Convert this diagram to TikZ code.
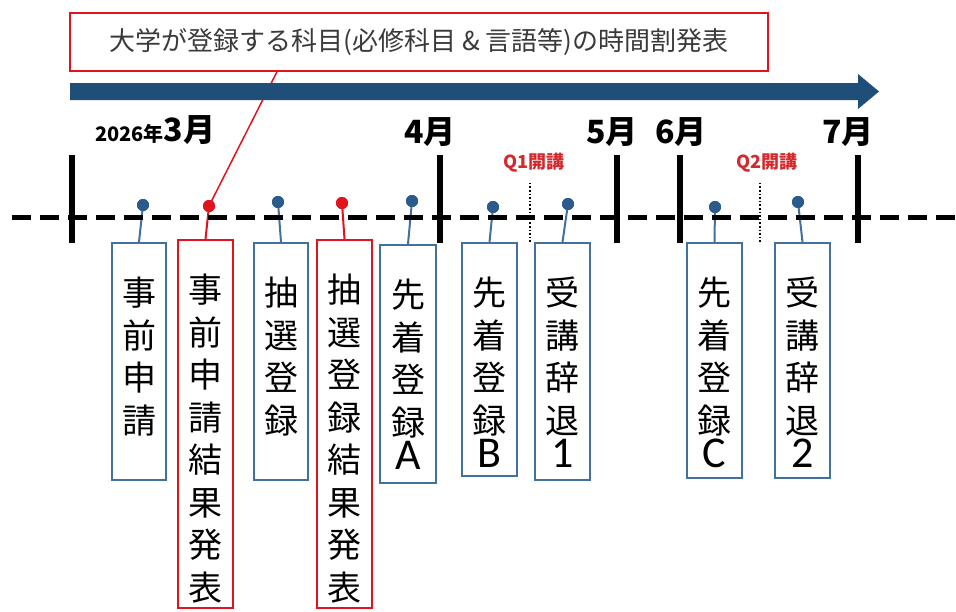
\documentclass[tikz,border=0pt]{standalone}
\usepackage{fontspec}
\newfontfamily\jp{Noto Sans CJK JP}
\newfontfamily\lat{Carlito}
\definecolor{navy}{HTML}{1F4E79}
\definecolor{boxblue}{HTML}{41719C}
\definecolor{dotblue}{HTML}{2A5B8C}
\definecolor{redc}{HTML}{E0141E}
\definecolor{labred}{HTML}{D42A2E}
\definecolor{txtgray}{HTML}{3A3A3A}
\begin{document}
\begin{tikzpicture}[x=1pt,y=-1pt,
  bbox/.style={draw=boxblue, line width=2pt, fill=white, inner sep=0pt},
  rbox/.style={draw=redc, line width=2pt, fill=white, inner sep=0pt},
  vtext/.style={anchor=north, inner sep=0pt, align=center, font=\jp\fontsize{34}{42.5}\selectfont},
  bdot/.style={circle, fill=dotblue, inner sep=0pt, minimum size=12pt},
  rdot/.style={circle, fill=redc, inner sep=0pt, minimum size=12pt},
  bstem/.style={draw=boxblue, line width=2pt},
  rstem/.style={draw=redc, line width=2pt},
  tick/.style={line width=6.5pt, black},
  qline/.style={line width=1.6pt, black, dotted},
  month/.style={anchor=base, inner sep=0pt, font=\jp\bfseries\fontsize{32}{32}\selectfont},
  qlab/.style={anchor=center, inner sep=0pt, text=labred, font=\jp\bfseries\fontsize{18}{18}\selectfont}
]
\useasboundingbox (0,0) rectangle (956,611);
\fill[white] (0,0) rectangle (956,611);

% callout
\node[draw=redc, line width=1.5pt, fill=white, minimum width=698pt, minimum height=58pt, inner sep=0pt,
      text=txtgray, font=\jp\fontsize{26}{26}\selectfont] (call) at (419,42)
      {大学が登録する科目(必修科目 \& 言語等)の時間割発表};

% dots
\node[bdot] (d1) at (143,205) {};
\node[rdot] (d2) at (209,206) {};
\node[bdot] (d3) at (278,202) {};
\node[rdot] (d4) at (342,203) {};
\node[bdot] (d5) at (412,201) {};
\node[bdot] (d6) at (493,207) {};
\node[bdot] (d7) at (568,204) {};
\node[bdot] (d8) at (715,207) {};
\node[bdot] (d9) at (798,202) {};

% callout connector (under the arrow)
\draw[redc, line width=1.5pt] ([xshift=-142pt]call.south) -- (d2.center);

% arrow
\fill[navy] (70,83) -- (858,83) -- (858,74) -- (879,91.5) -- (858,109) -- (858,100) -- (70,100) -- cycle;

% month labels
\node[anchor=base west, inner sep=0pt, font=\jp\bfseries] (m3) at (95,141)
  {\fontsize{20}{20}\selectfont 2026年\fontsize{32}{32}\selectfont 3月};
\node[month] (m4) at (430,143) {4月};
\node[month] (m5) at (612,143) {5月};
\node[month] (m6) at (681,143) {6月};
\node[month] (m7) at (848,143) {7月};

\node[qlab] (q1) at (534,163) {Q1開講};
\node[qlab] (q2) at (767,163) {Q2開講};

% boxes
\node[bbox, minimum width=54pt, minimum height=237pt] (b1) at (139,361.5) {};
\node[rbox, minimum width=55pt, minimum height=368pt] (b2) at (205.5,424) {};
\node[bbox, minimum width=54pt, minimum height=237pt] (b3) at (281,361.5) {};
\node[rbox, minimum width=55pt, minimum height=368pt] (b4) at (344.5,424) {};
\node[bbox, minimum width=56pt, minimum height=238pt] (b5) at (408,364) {};
\node[bbox, minimum width=55pt, minimum height=233pt] (b6) at (489.5,359.5) {};
\node[bbox, minimum width=55pt, minimum height=237pt] (b7) at (562.5,361.5) {};
\node[bbox, minimum width=55pt, minimum height=235pt] (b8) at (714.5,360.5) {};
\node[bbox, minimum width=55pt, minimum height=235pt] (b9) at (802.5,360.5) {};

% stems
\draw[bstem] (d1.center) -- (b1.north);
\draw[rstem] (d2.center) -- (b2.north);
\draw[bstem] (d3.center) -- (b3.north);
\draw[rstem] (d4.center) -- (b4.north);
\draw[bstem] (d5.center) -- (b5.north);
\draw[bstem] (d6.center) -- (b6.north);
\draw[bstem] (d7.center) -- (b7.north);
\draw[bstem] (d8.center) -- (b8.north);
\draw[bstem] (d9.center) -- (b9.north);

% timeline
\coordinate (tl0) at (12,217);
\coordinate (tl1) at (956,217);
\draw[black, line width=5pt, dash pattern=on 19pt off 9pt] (tl0) -- (tl1);

% quarter lines
\coordinate (q1b) at (530,243);
\coordinate (q2b) at (760,243);
\draw[qline] ([yshift=-10pt]q1.south -| q1b) -- (q1b);
\draw[qline] ([yshift=-10pt]q2.south -| q2b) -- (q2b);

% month ticks
\coordinate (t3a) at (72,155); \coordinate (t3b) at (72,243);
\coordinate (t4a) at (440,155); \coordinate (t4b) at (440,243);
\coordinate (t5a) at (617,155); \coordinate (t5b) at (617,243);
\coordinate (t6a) at (680,155); \coordinate (t6b) at (680,243);
\coordinate (t7a) at (858,155); \coordinate (t7b) at (858,243);
\draw[tick] (t3a) -- (t3b);
\draw[tick] (t4a) -- (t4b);
\draw[tick] (t5a) -- (t5b);
\draw[tick] (t6a) -- (t6b);
\draw[tick] (t7a) -- (t7b);

% redraw dots on top
\foreach \d in {d1,d3,d5,d6,d7,d8,d9} \fill[dotblue] (\d) circle (6pt);
\foreach \d in {d2,d4} \fill[redc] (\d) circle (6pt);

% box texts
\node[vtext] (x1) at ([yshift=-35pt]b1.north) {事\\前\\申\\請};
\node[vtext] (x2) at ([yshift=-35pt]b2.north) {事\\前\\申\\請\\結\\果\\発\\表};
\node[vtext] (x3) at ([yshift=-35pt]b3.north) {抽\\選\\登\\録};
\node[vtext] (x4) at ([yshift=-35pt]b4.north) {抽\\選\\登\\録\\結\\果\\発\\表};
\node[vtext] (x5) at ([yshift=-35pt]b5.north) {先\\着\\登\\録\\[-8pt]{\lat\fontsize{44}{44}\selectfont A}};
\node[vtext] (x6) at ([yshift=-35pt]b6.north) {先\\着\\登\\録\\[-8pt]{\lat\fontsize{44}{44}\selectfont B}};
\node[vtext] (x7) at ([yshift=-35pt]b7.north) {受\\講\\辞\\退\\[-8pt]{\lat\fontsize{44}{44}\selectfont 1}};
\node[vtext] (x8) at ([yshift=-35pt]b8.north) {先\\着\\登\\録\\[-8pt]{\lat\fontsize{44}{44}\selectfont C}};
\node[vtext] (x9) at ([yshift=-35pt]b9.north) {受\\講\\辞\\退\\[-8pt]{\lat\fontsize{44}{44}\selectfont 2}};
\end{tikzpicture}
\end{document}
